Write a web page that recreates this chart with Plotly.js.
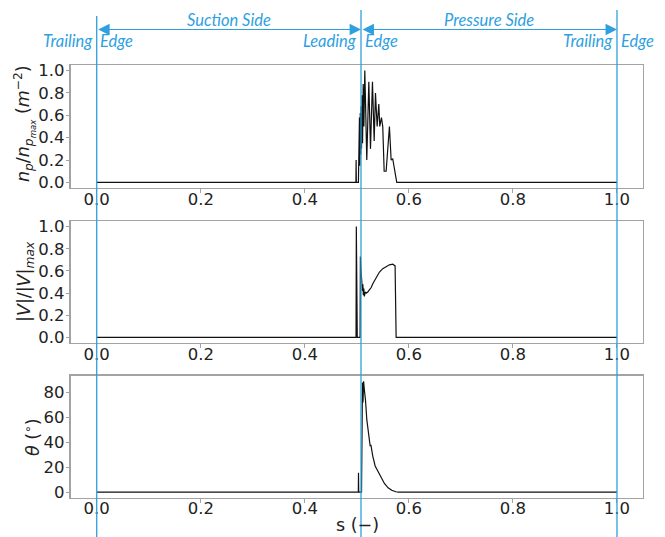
<!DOCTYPE html>
<html>
<head>
<meta charset="utf-8">
<script src="https://cdn.plot.ly/plotly-3.0.1.min.js"></script>
<style>html,body{margin:0;padding:0;background:#fff;}</style>
</head>
<body>
<div id="chart" style="width:665px;height:537px;"></div>
<script>
// ---- data ----
const npS = [0, 0.4982, 0.4986, 0.4990, 0.5030, 0.5036, 0.5042, 0.5050, 0.5058, 0.5066, 0.5074, 0.5082, 0.5090, 0.5100, 0.5110, 0.5122, 0.5135, 0.5153, 0.5191, 0.5230, 0.5262, 0.5300, 0.5333, 0.5358, 0.5390, 0.5422, 0.5441, 0.5473, 0.5498, 0.5525, 0.5563, 0.5626, 0.5659, 0.5690, 0.5767, 1.0];
const npV = [0, 0, 0.20, 0, 0, 0.45, 0.05, 0.58, 0.15, 0.62, 0.25, 0.68, 0.30, 0.78, 0.35, 0.88, 0.50, 1.00, 0.20, 0.90, 0.30, 0.90, 0.37, 0.80, 0.50, 0.70, 0.50, 0.58, 0.50, 0.10, 0.10, 0.50, 0.20, 0.21, 0, 0];

const velS = [0, 0.4984, 0.4990, 0.4996, 0.5000, 0.5008, 0.5062, 0.5068, 0.5080, 0.5096, 0.5105, 0.5115, 0.5125, 0.5134, 0.5145, 0.5160, 0.5180, 0.5210, 0.5243, 0.5275, 0.5306, 0.5371, 0.5435, 0.5498, 0.5563, 0.5626, 0.5690, 0.5722, 0.5735, 0.5755, 1.0];
const velV = [0, 0, 1.00, 0, 0.98, 0, 0, 0.73, 0.60, 0.50, 0.42, 0.48, 0.38, 0.44, 0.37, 0.41, 0.40, 0.41, 0.43, 0.45, 0.485, 0.545, 0.59, 0.62, 0.64, 0.655, 0.66, 0.65, 0.645, 0, 0];

const thS = [0, 0.5028, 0.5032, 0.5036, 0.5090, 0.5096, 0.5108, 0.5118, 0.5130, 0.5145, 0.5166, 0.5192, 0.5230, 0.5256, 0.5270, 0.5287, 0.5306, 0.5352, 0.5403, 0.5467, 0.5530, 0.5600, 0.5670, 0.5750, 0.5800, 1.0];
const thV = [0, 0, 15.5, 0, 0, 58, 88, 72, 89, 82, 74, 58, 45, 37, 38, 33, 29, 21, 17, 11.5, 7, 3.5, 1.5, 0.3, 0, 0];

const xTicks = [0, 0.2, 0.4, 0.6, 0.8, 1.0];
const xTickText = ['0.0', '0.2', '0.4', '0.6', '0.8', '1.0'];
const yTicksUnit = [0, 0.2, 0.4, 0.6, 0.8, 1.0];
const yTickTextUnit = ['0.0', '0.2', '0.4', '0.6', '0.8', '1.0'];
const yTicksTheta = [0, 20, 40, 60, 80];
const yTickTextTheta = ['0', '20', '40', '60', '80'];

const edgePositions = [0, 0.508, 1.0];
const sideLabels = ['Suction Side', 'Pressure Side'];

// ---- styling ----
const BLUE = '#2f9fdf';
const FRAME = '#a3a3a3';
const TXT = '#222222';
const FONT = 'DejaVu Sans';
const H = 537;
const py = px => 1 - px / H;

const lineStyle = {color: '#111111', width: 1.2};
const traces = [
  {x: npS, y: npV, xaxis: 'x', yaxis: 'y', mode: 'lines', line: lineStyle, hoverinfo: 'skip'},
  {x: velS, y: velV, xaxis: 'x2', yaxis: 'y2', mode: 'lines', line: lineStyle, hoverinfo: 'skip'},
  {x: thS, y: thV, xaxis: 'x3', yaxis: 'y3', mode: 'lines', line: lineStyle, hoverinfo: 'skip'}
];

function xa(anchor) {
  return {
    domain: [70.7 / 665, 643 / 665], anchor: anchor, range: [-0.05, 1.05],
    tickvals: xTicks, ticktext: xTickText,
    showline: true, mirror: true, linecolor: FRAME, linewidth: 1.3,
    ticks: 'outside', ticklen: 3.5, tickcolor: FRAME, tickwidth: 1,
    ticklabelstandoff: -8,
    showgrid: false, zeroline: false,
    tickfont: {family: FONT, size: 16.5, color: TXT}
  };
}
function ya(anchor, dom, range, tv, tt) {
  return {
    domain: dom, anchor: anchor, range: range,
    tickvals: tv, ticktext: tt,
    showline: true, mirror: true, linecolor: FRAME, linewidth: 1.3,
    ticks: 'outside', ticklen: 3.5, tickcolor: FRAME, tickwidth: 1,
    ticklabelstandoff: -2,
    showgrid: false, zeroline: false,
    tickfont: {family: FONT, size: 16.5, color: TXT}
  };
}

const shapes = edgePositions.map((s, i) => ({
  type: 'line', xref: 'x', yref: 'paper',
  x0: s, x1: s, y0: 0, y1: i === 0 ? py(16) : py(10),
  line: {color: BLUE, width: 1.3}, layer: 'above'
}));

const annFont = {family: 'Lato', size: 16.5, color: BLUE, style: 'italic'};
const annotations = [];
// arrows
[[edgePositions[0], edgePositions[1]], [edgePositions[1], edgePositions[2]]].forEach(pair => {
  annotations.push({
    xref: 'x', yref: 'paper', axref: 'x', ayref: 'paper',
    x: pair[1], y: py(29.5), ax: pair[0], ay: py(29.5),
    text: '', showarrow: true, arrowside: 'end+start',
    arrowhead: 2, arrowsize: 1.9, arrowwidth: 1.2, arrowcolor: BLUE,
    standoff: 0, startstandoff: 0
  });
});
// side labels
annotations.push({xref: 'x', yref: 'paper', x: (edgePositions[0] + edgePositions[1]) / 2, y: py(20), text: '<i>' + sideLabels[0] + '</i>', showarrow: false, font: annFont, xanchor: 'center', yanchor: 'middle'});
annotations.push({xref: 'x', yref: 'paper', x: (edgePositions[1] + edgePositions[2]) / 2, y: py(20), text: '<i>' + sideLabels[1] + '</i>', showarrow: false, font: annFont, xanchor: 'center', yanchor: 'middle'});
// edge labels
const edgeWords = [['Trailing', 'Edge'], ['Leading', 'Edge'], ['Trailing', 'Edge']];
edgePositions.forEach((s, i) => {
  annotations.push({xref: 'x', yref: 'paper', x: s - 0.004, y: py(40.5), text: '<i>' + edgeWords[i][0] + '</i>', showarrow: false, font: annFont, xanchor: 'right', yanchor: 'middle'});
  annotations.push({xref: 'x', yref: 'paper', x: s + 0.003, y: py(40.5), text: '<i>' + edgeWords[i][1] + '</i>', showarrow: false, font: annFont, xanchor: 'left', yanchor: 'middle'});
});
// axis titles
const titleFont = {family: FONT, size: 17.5, color: TXT};
annotations.push({xref: 'paper', yref: 'paper', x: 25 / 665, y: py(124), textangle: -90, showarrow: false, font: titleFont,
  text: '<i>n<sub>p</sub></i>/<i>n<sub>p<sub>max</sub></sub></i> (<i>m</i><sup>−2</sup>)', xanchor: 'center', yanchor: 'middle'});
annotations.push({xref: 'paper', yref: 'paper', x: 25 / 665, y: py(282), textangle: -90, showarrow: false, font: titleFont,
  text: '|<i>V</i>|/|<i>V</i>|<sub><i>max</i></sub>', xanchor: 'center', yanchor: 'middle'});
annotations.push({xref: 'paper', yref: 'paper', x: 32 / 665, y: py(437), textangle: -90, showarrow: false, font: titleFont,
  text: '<i>θ</i> (<sup>∘</sup>)', xanchor: 'center', yanchor: 'middle'});
annotations.push({xref: 'paper', yref: 'paper', x: 357 / 665, y: py(525), showarrow: false, font: titleFont,
  text: 's (−)', xanchor: 'center', yanchor: 'middle'});

const layout = {
  width: 665, height: 537,
  margin: {l: 0, r: 0, t: 0, b: 0},
  paper_bgcolor: '#ffffff', plot_bgcolor: '#ffffff',
  showlegend: false,
  xaxis: xa('y'), xaxis2: xa('y2'), xaxis3: xa('y3'),
  yaxis: ya('x', [py(188), py(65)], [-0.05, 1.05], yTicksUnit, yTickTextUnit),
  yaxis2: ya('x2', [py(343), py(221)], [-0.05, 1.05], yTicksUnit, yTickTextUnit),
  yaxis3: ya('x3', [py(497.7), py(375.7)], [-4.45, 93.5], yTicksTheta, yTickTextTheta),
  shapes: shapes,
  annotations: annotations
};

Plotly.newPlot('chart', traces, layout, {displayModeBar: false, staticPlot: true});
</script>
</body>
</html>
